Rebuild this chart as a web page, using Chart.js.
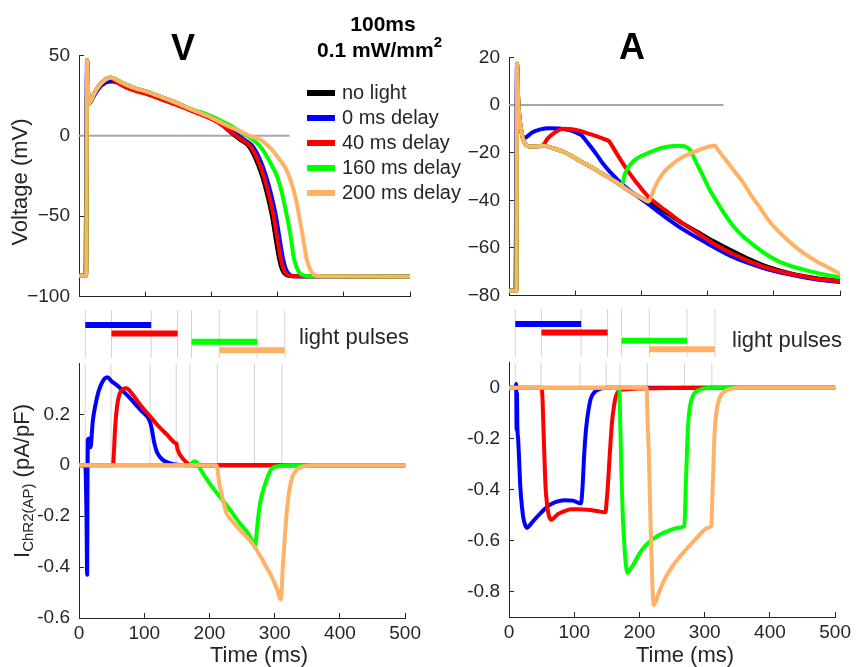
<!DOCTYPE html>
<html>
<head>
<meta charset="utf-8">
<script src="https://cdn.jsdelivr.net/npm/chart.js@4.4.1/dist/chart.umd.min.js"></script>
<style>
  body { margin: 0; background: #fff; width: 857px; height: 667px; position: relative; overflow: hidden;
         font-family: 'Liberation Sans', Arial, Helvetica, sans-serif; color: #262626; }
  canvas { position: absolute; }
  .t { position: absolute; white-space: nowrap; line-height: 1; }
  .b { font-weight: bold; color: #000; }
  .rot { transform: translate(-50%, -50%) rotate(-90deg); }
  .key { position: absolute; width: 28px; height: 6px; }
</style>
</head>
<body>
<canvas id="vTop"></canvas>
<canvas id="aTop"></canvas>
<canvas id="vStrip"></canvas>
<canvas id="aStrip"></canvas>
<canvas id="vCur"></canvas>
<canvas id="aCur"></canvas>

<div class="t b" style="font-size:36px; left:183px; top:30px; transform:translateX(-50%)">V</div>
<div class="t b" style="font-size:36px; left:632px; top:29px; transform:translateX(-50%)">A</div>
<div class="t b" style="font-size:21px; left:383px; top:13px; transform:translateX(-50%)">100ms</div>
<div class="t b" style="font-size:21px; left:317px; top:39px">0.1 mW/mm<span style="font-size:15px; position:relative; top:-10px">2</span></div>

<div class="key" style="left:307px; top:90px; background:#000000"></div>
<div class="key" style="left:307px; top:115px; background:#0000ff"></div>
<div class="key" style="left:307px; top:140px; background:#ff0000"></div>
<div class="key" style="left:307px; top:165px; background:#00ff00"></div>
<div class="key" style="left:307px; top:190px; background:#ffb266"></div>
<div class="t" style="font-size:20px; left:342px; top:82px">no light</div>
<div class="t" style="font-size:20px; left:342px; top:107px">0 ms delay</div>
<div class="t" style="font-size:20px; left:342px; top:132px">40 ms delay</div>
<div class="t" style="font-size:20px; left:342px; top:157px">160 ms delay</div>
<div class="t" style="font-size:20px; left:342px; top:182px">200 ms delay</div>

<div class="t rot" style="font-size:22px; left:20px; top:182px">Voltage (mV)</div>
<div class="t rot" style="font-size:22px; left:22px; top:481px">I<span style="font-size:15px; position:relative; top:4px">ChR2(AP)</span> (pA/pF)</div>

<div class="t" style="font-size:22px; left:299px; top:326px">light pulses</div>
<div class="t" style="font-size:22px; left:732px; top:329px">light pulses</div>

<div class="t" style="font-size:22px; left:259px; top:644px; transform:translateX(-50%)">Time (ms)</div>
<div class="t" style="font-size:22px; left:685px; top:644px; transform:translateX(-50%)">Time (ms)</div>

<script>
// ---- ticks ----
const timeTicks = [0, 100, 200, 300, 400, 500];
const vTicks = [-100, -50, 0, 50];
const aTicks = [-80, -60, -40, -20, 0, 20];
const iTicksV = [-0.6, -0.4, -0.2, 0, 0.2];
const iTicksA = [-0.8, -0.6, -0.4, -0.2, 0];

// ---- light pulses (ms) ----
const pulseStart = [9.5, 49, 170, 212];
const pulseEnd = [109, 149, 269, 311];
const pulseRow = [4, 3, 2, 1];

// ---- ventricular AP, mV (t, V) ----
const vNoLight = [[0,-87],[10.8,-87],[12.3,47],[13.5,30],[14.5,20],[17,21],[22,25.5],[30,31],[40,35],[48,36.3],[60,34],[70,32],[85,29.5],[100,27.8],[120,24.8],[146,20.6],[170,16.4],[183,14.2],[196,12],[213,8],[224,4],[235.5,0],[245.5,-3],[255.5,-6],[266.5,-14],[276.5,-25],[284.5,-37],[291.5,-50],[295.5,-60],[299,-69],[302.5,-77],[306.5,-83],[312.5,-86.5],[321.5,-87.3],[500,-87.5]];
const v0ms = [[0,-87],[9.6,-87],[10.4,-55],[12.1,47],[13.5,30],[14.5,20],[17,20.5],[22,24.5],[30,29.5],[40,33],[50,33.7],[60,32.8],[70,31.5],[85,29.2],[100,27.5],[120,24.5],[146,20.3],[170,16.1],[183,13.9],[196,11.7],[213,8],[228,4],[241.5,0],[251.5,-3],[261.5,-6],[272.5,-14],[282.5,-25],[290.5,-37],[297.5,-50],[301.5,-60],[305,-69],[308.5,-77],[312.5,-83],[318.5,-86.5],[327.5,-87.3],[500,-87.5]];
const v40ms = [[0,-87],[10.8,-87],[12.3,47],[13.5,30],[14.5,20],[17,21],[22,25.5],[30,31],[40,35],[48,36],[55,34],[62,32],[70,30.3],[85,28],[100,26.2],[120,23.3],[146,19.4],[160,17.2],[170,15.5],[183,13.4],[196,11.2],[213,7.5],[226,3.5],[238,0],[248,-3],[258,-6],[269,-14],[279,-25],[287,-37],[294,-50],[298,-60],[301.5,-69],[305,-77],[309,-83],[315,-86.5],[324,-87.3],[500,-87.5]];
const v160ms = [[0,-87],[10.8,-87],[12.3,47],[13.5,30],[14.5,20],[17,21],[22,25.5],[30,31],[40,35],[48,36.3],[60,34],[70,32],[85,29.5],[100,27.8],[120,24.8],[146,20.6],[170,16.4],[183,14.8],[196,12.8],[213,9.6],[228,6.5],[240,3.5],[254,0],[270,-5],[279,-9.6],[284,-13],[292,-19],[299,-25],[305,-33],[309,-40],[313,-48],[317,-56],[321,-66],[324,-75],[329,-82],[334,-85.6],[349,-87.3],[500,-87.5]];
const v200ms = [[0,-87],[10.8,-87],[12.3,47],[13.5,30],[14.5,20],[17,21],[22,25.5],[30,31],[40,35],[48,36.3],[60,34],[70,32],[85,29.5],[100,27.8],[120,24.8],[146,20.6],[170,16.4],[183,14.2],[196,12],[213,8.5],[228,5.5],[246,2.5],[258,0],[274,-2.5],[290,-8],[304,-15.4],[312,-20],[319,-27],[325,-35],[329,-42],[333,-51],[337,-60],[341,-70],[344,-77],[349,-83],[354,-86],[365,-87.3],[500,-87.5]];

// ---- atrial AP, mV (t, V) ----
const aNoLight = [[0,-78],[11.2,-78],[12.2,17.3],[13.5,5],[15,-3],[17,-8],[21,-14],[25,-16.5],[32,-17.4],[42,-17.3],[52,-17.1],[65,-18],[83,-19.7],[108,-23.6],[133,-27.5],[163,-32.5],[183,-36.3],[200,-39],[211,-40.5],[225,-43],[243,-46.2],[263,-49.8],[283,-53],[308,-57],[334,-60.8],[360,-64.3],[384,-67.2],[410,-69.5],[434,-71.2],[465,-72.7],[500,-73.8]];
const a0ms = [[0,-78],[9.8,-78],[10.5,-50],[12,17],[13.5,4],[15.5,-4],[17,-8],[21,-13.5],[24,-13.8],[27.4,-13.2],[35,-11.5],[47.5,-10.2],[60,-9.7],[75,-9.8],[92.7,-10.6],[105,-12],[110,-12.8],[115,-14.5],[125,-18],[133,-21],[143,-25],[153,-28.2],[168,-32.5],[183,-36],[208,-41.1],[233,-46.4],[263,-52.2],[299,-58],[334,-63.2],[360,-66.2],[384,-68.4],[410,-70.3],[434,-71.7],[465,-73.2],[500,-74.3]];
const a40ms = [[0,-78],[11.2,-78],[12.2,17.3],[13.5,5],[15,-3],[17,-8],[21,-14],[25,-16.5],[32,-17.4],[42,-17.3],[50,-17.2],[52.5,-16.5],[58,-14.2],[67.5,-11.9],[75,-10.6],[82.6,-10],[95,-10.2],[107.8,-10.9],[120,-12],[133,-13.2],[145,-14.4],[151,-15.2],[155,-16.8],[163,-20.5],[173,-24.9],[183,-29],[193,-32.7],[203,-36.2],[213.3,-39.2],[228,-42.5],[243.5,-45.7],[263,-49.8],[283.7,-53.5],[308,-58],[334,-61.9],[360,-65.2],[384,-67.8],[410,-69.9],[434.5,-71.4],[465,-72.9],[500,-74]];
const a160ms = [[0,-78],[11.2,-78],[12.2,17.3],[13.5,5],[15,-3],[17,-8],[21,-14],[25,-16.5],[32,-17.4],[42,-17.3],[52,-17.1],[65,-18],[83,-19.7],[108,-23.6],[133,-27.5],[163,-32.5],[170,-33.8],[175,-29],[183,-25],[193,-22.5],[203,-21],[218,-19.2],[233,-17.8],[253.6,-17.1],[265,-17.3],[270,-18],[273.6,-18.8],[280,-22.5],[293.7,-30.1],[303,-35.5],[313.9,-40.5],[325,-45.5],[339,-50.9],[353,-55],[369,-58.7],[385,-62],[404,-65.2],[425,-67.5],[444,-69],[470,-70.8],[500,-72.3]];
const a200ms = [[0,-78],[11.2,-78],[12.2,17.3],[13.5,5],[15,-3],[17,-8],[21,-14],[25,-16.5],[32,-17.4],[42,-17.3],[52,-17.1],[65,-18],[83,-19.7],[108,-23.6],[133,-27.5],[163,-32.5],[183,-36.3],[200,-39],[211,-40.5],[214,-39],[218,-36],[223.4,-32.7],[233,-28.5],[243.5,-25.6],[258,-22.5],[273.6,-20.4],[290,-18.5],[300,-17.6],[308.8,-17.1],[311,-17],[315,-18.6],[329,-23.6],[341,-28],[354,-32.7],[366,-38],[379,-43],[391,-48],[404,-52.2],[417,-55.7],[429,-58.7],[442,-61.5],[454.5,-63.9],[467,-66],[479.7,-67.8],[500,-71]];

// ---- ChR2 current, ventricular (t, pA/pF) ----
const iv0ms = [[0,0],[9.5,0],[10.5,-0.05],[11.5,-0.2],[12.5,-0.43],[13,-0.1],[13.5,0.1],[15,0.105],[16.5,0.07],[18,0.075],[21,0.17],[25,0.234],[30,0.29],[35,0.323],[40,0.342],[43.5,0.346],[50,0.33],[60,0.31],[70,0.285],[83,0.25],[95,0.215],[108,0.176],[111,0.15],[115,0.093],[119,0.055],[123,0.036],[128,0.022],[133,0.014],[145,0.004],[165,0],[500,0]];
const iv40ms = [[0,0],[52,0],[53.5,0.05],[55,0.131],[57,0.2],[60,0.259],[64,0.29],[68,0.3],[72.7,0.302],[80,0.285],[95,0.234],[108,0.195],[120.5,0.157],[135,0.12],[148,0.087],[149.5,0.085],[150.6,0.068],[154,0.045],[158,0.03],[163,0.015],[168,0.004],[175,0],[500,0]];
const iv160ms = [[0,0],[170,0],[173,0.008],[177,0.016],[181,0.01],[186,-0.015],[200,-0.07],[216,-0.124],[230,-0.17],[246,-0.226],[260,-0.27],[270,-0.313],[271.5,-0.29],[274,-0.22],[277,-0.16],[280,-0.12],[284,-0.085],[290,-0.04],[295,-0.015],[305,-0.004],[320,0],[500,0]];
const iv200ms = [[0,0],[211,0],[213,-0.03],[215,-0.07],[218.5,-0.111],[222,-0.15],[226,-0.188],[232,-0.21],[246,-0.252],[260,-0.29],[271.3,-0.328],[285,-0.39],[296.5,-0.443],[304,-0.49],[309,-0.527],[310.5,-0.5],[312,-0.42],[314,-0.34],[318,-0.2],[321.7,-0.111],[325,-0.065],[329,-0.034],[335,-0.015],[346.8,-0.003],[360,0],[500,0]];

// ---- ChR2 current, atrial (t, pA/pF) ----
const ia0ms = [[0,0],[10.5,0],[11,0.015],[11.6,-0.164],[12.2,-0.02],[12.8,-0.15],[14,-0.2],[15.5,-0.28],[17.3,-0.387],[20,-0.47],[22.3,-0.515],[25,-0.54],[27.4,-0.55],[30,-0.545],[35,-0.53],[40,-0.515],[50,-0.488],[60,-0.464],[72,-0.448],[85,-0.441],[98,-0.443],[110.3,-0.454],[112.8,-0.387],[115.3,-0.26],[117.5,-0.18],[119.4,-0.132],[122,-0.085],[125.4,-0.042],[130,-0.02],[135.4,-0.008],[150,0],[500,0]];
const ia40ms = [[0,0],[50,0],[51.5,-0.05],[52.5,-0.132],[54,-0.25],[56,-0.387],[58,-0.45],[61,-0.5],[65,-0.518],[70,-0.508],[75,-0.496],[85,-0.484],[95.3,-0.477],[108,-0.477],[120.3,-0.479],[135,-0.484],[148,-0.489],[149.5,-0.45],[151.5,-0.387],[154.5,-0.26],[158,-0.132],[160.5,-0.08],[163,-0.042],[166,-0.02],[170.7,-0.008],[195.7,-0.003],[280,0],[500,0]];
const ia160ms = [[0,0],[169,0],[170.5,-0.13],[171.6,-0.26],[173,-0.39],[174.6,-0.515],[176.5,-0.6],[178.2,-0.668],[180,-0.71],[181.7,-0.726],[184,-0.72],[190.7,-0.694],[198,-0.66],[205.8,-0.63],[215,-0.605],[225.8,-0.585],[236,-0.57],[246,-0.56],[258,-0.55],[268.7,-0.543],[270,-0.48],[271,-0.387],[273.6,-0.195],[275,-0.13],[277,-0.08],[280,-0.045],[283.7,-0.023],[290,-0.01],[296.2,-0.004],[320,0],[500,0]];
const ia200ms = [[0,0],[210.8,0],[212.5,-0.13],[214.4,-0.26],[215.6,-0.39],[216.8,-0.515],[218,-0.63],[219.4,-0.745],[220.6,-0.82],[221.9,-0.853],[224,-0.845],[231,-0.796],[238,-0.755],[246,-0.719],[258,-0.675],[271.1,-0.636],[284,-0.6],[296.2,-0.566],[304,-0.55],[310.3,-0.54],[311.3,-0.46],[312.4,-0.387],[314.8,-0.195],[316.5,-0.13],[318.9,-0.08],[322,-0.045],[326.4,-0.023],[333,-0.01],[341.5,-0.003],[360,0],[500,0]];

// zero reference lines in the AP panels
const vZero = [[0,0],[318,0]];
const aZero = [[0,0],[324,0]];

const AX = '#262626';
const GUIDE = '#d4d4d4';
const COL = { black: '#000000', blue: '#0000ff', red: '#ff0000', green: '#00ff00', orange: '#ffb266' };
const AXW = 70, PAD = 20;

Chart.defaults.font.family = "'Liberation Sans', Arial, Helvetica, sans-serif";
Chart.defaults.font.size = 19;
Chart.defaults.color = AX;
Chart.defaults.animation = false;

function pts(a) { return a.map(p => ({ x: p[0], y: p[1] })); }

function curve(data, color, order) {
  return { data: pts(data), borderColor: color, borderWidth: 4, pointRadius: 0, order: order,
           cubicInterpolationMode: 'monotone', borderJoinStyle: 'round', borderCapStyle: 'round' };
}

function rule(data, color, width, order) {
  return { data: pts(data), borderColor: color, borderWidth: width, pointRadius: 0, order: order,
           tension: 0, borderCapStyle: 'butt' };
}

function guides(y0, y1) {
  const out = [];
  pulseStart.concat(pulseEnd).forEach(t => out.push(rule([[t, y0], [t, y1]], GUIDE, 1, 20)));
  return out;
}

function fmtMinus(v) { return v < 0 ? '\u2212' + Math.abs(v) : String(v); }
function fmtDec(v) { return v === 0 ? '0' : v.toFixed(1); }

function panel(id, area, yMin, yMax, yTicks, fmt, showTime, datasets) {
  const xh = showTime ? 40 : 12;
  const cv = document.getElementById(id);
  cv.width = AXW + area.w + PAD;
  cv.height = PAD + area.h + xh;
  cv.style.left = (area.x - AXW) + 'px';
  cv.style.top = (area.y - PAD) + 'px';
  new Chart(cv, {
    type: 'line',
    data: { datasets: datasets },
    options: {
      responsive: false, animation: false, events: [],
      layout: { padding: { top: PAD, right: PAD, left: 0, bottom: 0 } },
      plugins: { legend: { display: false }, tooltip: { enabled: false } },
      scales: {
        x: {
          type: 'linear', min: 0, max: 500,
          afterBuildTicks: s => { s.ticks = timeTicks.map(v => ({ value: v })); },
          afterFit: s => { s.height = xh; },
          border: { color: AX, width: 1 },
          grid: { drawOnChartArea: false, color: AX, tickLength: -5 },
          ticks: { padding: 9, maxRotation: 0, autoSkip: false, callback: v => showTime ? String(v) : '' }
        },
        y: {
          type: 'linear', min: yMin, max: yMax,
          afterBuildTicks: s => { s.ticks = yTicks.map(v => ({ value: v })); },
          afterFit: s => { s.width = AXW; },
          border: { color: AX, width: 1 },
          grid: { drawOnChartArea: false, color: AX, tickLength: -5 },
          ticks: { padding: 14, callback: fmt }
        }
      }
    }
  });
}

function strip(id, area) {
  const cv = document.getElementById(id);
  cv.width = area.w;
  cv.height = area.h;
  cv.style.left = area.x + 'px';
  cv.style.top = area.y + 'px';
  const colors = [COL.blue, COL.red, COL.green, COL.orange];
  const ds = guides(0.08, 5.79);
  pulseStart.forEach((t, i) => ds.push(rule([[t, pulseRow[i]], [pulseEnd[i], pulseRow[i]]], colors[i], 6, 1)));
  new Chart(cv, {
    type: 'line',
    data: { datasets: ds },
    options: {
      responsive: false, animation: false, events: [],
      layout: { padding: 0 },
      plugins: { legend: { display: false }, tooltip: { enabled: false } },
      scales: {
        x: { type: 'linear', min: 0, max: 500, display: false },
        y: { type: 'linear', min: 0.08, max: 5.79, display: false }
      }
    }
  });
}

panel('vTop', { x: 79, y: 50, w: 331, h: 260 }, -100, 50, vTicks, fmtMinus, false, [
  rule(vZero, '#a6a6a6', 2, 10),
  curve(vNoLight, COL.black, 5),
  curve(v0ms, COL.blue, 4),
  curve(v40ms, COL.red, 3),
  curve(v160ms, COL.green, 2),
  curve(v200ms, COL.orange, 1)
]);

panel('aTop', { x: 509, y: 52, w: 331, h: 257 }, -80, 20, aTicks, fmtMinus, false, [
  rule(aZero, '#a6a6a6', 2, 10),
  curve(aNoLight, COL.black, 5),
  curve(a0ms, COL.blue, 4),
  curve(a40ms, COL.red, 3),
  curve(a160ms, COL.green, 2),
  curve(a200ms, COL.orange, 1)
]);

strip('vStrip', { x: 79, y: 310, w: 331, h: 48 });
strip('aStrip', { x: 509, y: 309, w: 331, h: 48 });

panel('vCur', { x: 79, y: 358, w: 331, h: 260 }, -0.6, 0.4, iTicksV, fmtDec, true,
  guides(0, 0.4).concat([
    curve(iv0ms, COL.blue, 4),
    curve(iv40ms, COL.red, 3),
    curve(iv160ms, COL.green, 2),
    curve(iv200ms, COL.orange, 1)
  ]));

panel('aCur', { x: 509, y: 357, w: 331, h: 260 }, -0.9, 0.1, iTicksA, fmtDec, true,
  guides(0, 0.1).concat([
    curve(ia0ms, COL.blue, 4),
    curve(ia40ms, COL.red, 3),
    curve(ia160ms, COL.green, 2),
    curve(ia200ms, COL.orange, 1)
  ]));
</script>
</body>
</html>
